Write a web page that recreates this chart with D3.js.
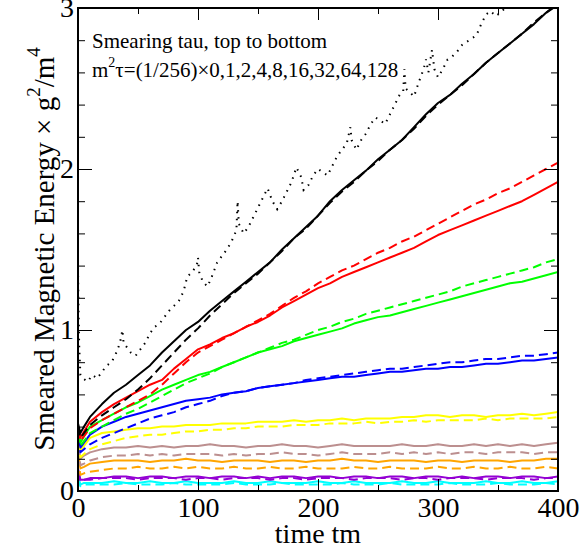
<!DOCTYPE html>
<html>
<head>
<meta charset="utf-8">
<script src="https://cdn.jsdelivr.net/npm/d3@7"></script>
<style>
  html, body { margin: 0; padding: 0; background: #fff; }
  svg { display: block; }
  svg text { font-family: "Liberation Serif", "Times New Roman", Times, "DejaVu Serif", serif !important; fill: #000; }
</style>
</head>
<body>
<svg id="chart" width="584" height="552"></svg>
<script>
// Sample times (tm) shared by the smeared curves
const T = [0, 2, 5,
  10, 20, 30, 40, 50, 60, 70, 80, 90, 100,
  110, 120, 130, 140, 150, 160, 170, 180, 190, 200,
  210, 220, 230, 240, 250, 260, 270, 280, 290, 300,
  310, 320, 330, 340, 350, 360, 370, 380, 390, 400];

const blackSolid = [0.42,0.36,0.40,
  0.46,0.54,0.61,0.66,0.72,0.78,0.86,0.93,1.00,1.05,
  1.12,1.18,1.24,1.30,1.36,1.42,1.50,1.57,1.64,1.71,
  1.80,1.87,1.93,1.99,2.06,2.12,2.18,2.26,2.34,2.41,
  2.46,2.53,2.59,2.66,2.72,2.78,2.84,2.90,2.97,3.02];
const blackDash = [0.40,0.33,0.36,
  0.41,0.47,0.52,0.57,0.63,0.70,0.78,0.86,0.94,1.01,
  1.09,1.16,1.23,1.29,1.35,1.42,1.49,1.57,1.63,1.71,
  1.79,1.86,1.92,1.99,2.05,2.12,2.18,2.25,2.33,2.40,
  2.46,2.52,2.59,2.66,2.72,2.78,2.84,2.91,2.97,3.03];
const redSolid = [0.40,0.33,0.37,
  0.43,0.49,0.54,0.58,0.62,0.66,0.69,0.76,0.82,0.88,
  0.91,0.95,0.98,1.02,1.05,1.09,1.14,1.18,1.22,1.26,
  1.29,1.33,1.36,1.39,1.42,1.45,1.48,1.51,1.55,1.59,
  1.62,1.65,1.68,1.71,1.74,1.77,1.80,1.84,1.88,1.92];
const redDash = [0.38,0.31,0.34,
  0.39,0.44,0.48,0.52,0.56,0.60,0.66,0.73,0.80,0.86,
  0.90,0.94,0.98,1.02,1.06,1.10,1.15,1.20,1.24,1.29,
  1.33,1.37,1.40,1.44,1.48,1.51,1.55,1.58,1.62,1.66,
  1.70,1.74,1.78,1.81,1.85,1.88,1.92,1.96,2.00,2.04];
const greenSolid = [0.38,0.30,0.34,
  0.40,0.44,0.48,0.52,0.55,0.59,0.63,0.66,0.69,0.72,
  0.74,0.77,0.80,0.83,0.86,0.88,0.90,0.93,0.95,0.97,
  0.99,1.01,1.04,1.06,1.08,1.09,1.11,1.13,1.15,1.17,
  1.19,1.21,1.23,1.25,1.27,1.29,1.30,1.32,1.34,1.36];
const greenDash = [0.36,0.28,0.31,
  0.36,0.40,0.44,0.48,0.51,0.55,0.59,0.63,0.67,0.70,
  0.73,0.77,0.80,0.83,0.86,0.89,0.92,0.94,0.97,1.00,
  1.02,1.05,1.07,1.10,1.12,1.14,1.16,1.18,1.20,1.22,
  1.24,1.27,1.29,1.31,1.33,1.35,1.37,1.39,1.42,1.44];
const blueSolid = [0.36,0.27,0.30,
  0.35,0.40,0.43,0.46,0.48,0.50,0.52,0.54,0.56,0.57,
  0.58,0.60,0.61,0.62,0.64,0.65,0.66,0.67,0.68,0.69,
  0.70,0.71,0.71,0.72,0.73,0.74,0.74,0.75,0.76,0.76,
  0.77,0.77,0.78,0.79,0.79,0.80,0.81,0.81,0.82,0.83];
const blueDash = [0.34,0.24,0.26,
  0.29,0.33,0.36,0.39,0.42,0.45,0.47,0.49,0.52,0.54,
  0.56,0.59,0.61,0.62,0.64,0.65,0.66,0.67,0.69,0.70,
  0.71,0.72,0.73,0.74,0.75,0.76,0.76,0.77,0.78,0.79,
  0.80,0.80,0.81,0.82,0.82,0.83,0.84,0.84,0.85,0.86];
const yellowSolid = [0.33,0.25,0.28,
  0.33,0.36,0.37,0.38,0.39,0.39,0.40,0.40,0.41,0.41,
  0.41,0.42,0.42,0.42,0.43,0.43,0.43,0.44,0.43,0.44,
  0.44,0.45,0.44,0.45,0.45,0.45,0.46,0.46,0.47,0.47,
  0.46,0.47,0.47,0.46,0.47,0.47,0.48,0.47,0.48,0.49];
const yellowDash = [0.31,0.21,0.23,
  0.26,0.29,0.31,0.33,0.34,0.35,0.35,0.36,0.37,0.37,
  0.38,0.38,0.39,0.39,0.40,0.40,0.40,0.41,0.41,0.41,
  0.42,0.42,0.42,0.43,0.42,0.43,0.43,0.44,0.43,0.44,
  0.44,0.44,0.44,0.45,0.44,0.45,0.45,0.45,0.45,0.46];
const brownSolid = [0.30,0.20,0.22,
  0.24,0.26,0.27,0.27,0.28,0.27,0.28,0.27,0.28,0.28,
  0.29,0.28,0.28,0.27,0.28,0.28,0.29,0.28,0.28,0.27,
  0.28,0.29,0.28,0.28,0.28,0.28,0.29,0.28,0.28,0.29,
  0.28,0.28,0.29,0.28,0.29,0.28,0.29,0.28,0.29,0.30];
const brownDash = [0.27,0.16,0.17,
  0.19,0.21,0.22,0.22,0.23,0.22,0.23,0.22,0.23,0.23,
  0.23,0.22,0.23,0.22,0.23,0.23,0.24,0.23,0.23,0.22,
  0.23,0.24,0.23,0.23,0.23,0.24,0.23,0.24,0.23,0.24,
  0.23,0.24,0.24,0.23,0.24,0.24,0.24,0.23,0.24,0.24];
const orangeSolid = [0.24,0.14,0.15,
  0.17,0.18,0.19,0.19,0.19,0.18,0.19,0.19,0.20,0.19,
  0.19,0.18,0.19,0.19,0.19,0.18,0.19,0.19,0.18,0.19,
  0.19,0.20,0.19,0.19,0.18,0.19,0.19,0.19,0.18,0.19,
  0.19,0.18,0.19,0.19,0.19,0.18,0.19,0.19,0.20,0.20];
const orangeDash = [0.21,0.10,0.11,
  0.12,0.13,0.14,0.14,0.15,0.14,0.14,0.15,0.14,0.15,
  0.14,0.14,0.15,0.14,0.14,0.15,0.14,0.14,0.15,0.14,
  0.14,0.14,0.15,0.14,0.14,0.15,0.14,0.14,0.14,0.15,
  0.14,0.14,0.15,0.14,0.14,0.15,0.14,0.14,0.15,0.14];
const violetSolid = [0.14,0.07,0.07,
  0.08,0.08,0.09,0.09,0.08,0.09,0.09,0.08,0.09,0.09,
  0.08,0.09,0.09,0.08,0.09,0.08,0.09,0.09,0.08,0.09,
  0.09,0.08,0.09,0.09,0.08,0.09,0.09,0.08,0.09,0.09,
  0.08,0.09,0.08,0.09,0.09,0.08,0.09,0.09,0.08,0.09];
const violetDash = [0.12,0.06,0.07,
  0.07,0.08,0.08,0.08,0.07,0.08,0.08,0.08,0.07,0.08,
  0.08,0.07,0.08,0.08,0.08,0.07,0.08,0.08,0.07,0.08,
  0.08,0.08,0.07,0.08,0.08,0.08,0.07,0.08,0.08,0.07,
  0.08,0.08,0.08,0.07,0.08,0.08,0.08,0.07,0.08,0.08];
const cyanSolid = [0.09,0.04,0.05,
  0.05,0.05,0.06,0.05,0.05,0.06,0.05,0.05,0.06,0.05,
  0.05,0.05,0.06,0.05,0.05,0.06,0.05,0.05,0.05,0.06,
  0.05,0.05,0.06,0.05,0.05,0.05,0.06,0.05,0.05,0.06,
  0.05,0.05,0.05,0.06,0.05,0.05,0.06,0.05,0.05,0.06];
const cyanDash = [0.08,0.03,0.04,
  0.04,0.04,0.04,0.05,0.04,0.04,0.04,0.05,0.04,0.04,
  0.04,0.04,0.05,0.04,0.04,0.04,0.05,0.04,0.04,0.04,
  0.04,0.05,0.04,0.04,0.04,0.05,0.04,0.04,0.04,0.04,
  0.05,0.04,0.04,0.04,0.05,0.04,0.04,0.04,0.05,0.04];

// Unsmeared energy (tau = 0), sampled more finely
const dotT = [0, 0.5, 1, 2, 4, 8, 12, 16, 20, 24, 28, 32, 35, 37, 38, 40, 44, 48, 52, 56,
  60, 64, 68, 72, 76, 80, 84, 88, 91, 95, 99, 100, 101, 104, 108, 112, 116, 120, 124, 128,
  132, 133, 134, 138, 142, 146, 150, 154, 158, 162, 166, 170, 174, 178, 182, 186, 188, 192, 196, 200,
  204, 208, 212, 216, 220, 224, 227, 228, 232, 236, 240, 244, 248, 252, 256, 260, 264, 268, 271, 272,
  273, 276, 280, 284, 288, 290, 292, 295, 297, 300, 304, 308, 312, 316, 320, 324, 328, 332, 336, 340,
  344, 348, 352, 356, 360, 364, 368, 372, 376, 380, 390, 400];
const dotE = [1.38, 1.10, 0.90, 0.72, 0.70, 0.68, 0.72, 0.70, 0.74, 0.78, 0.80, 0.86, 0.92, 1.00, 0.92, 0.90, 0.86, 0.84, 0.88, 0.92,
  0.98, 1.02, 1.04, 1.08, 1.12, 1.15, 1.18, 1.24, 1.33, 1.36, 1.40, 1.45, 1.36, 1.30, 1.27, 1.34, 1.42, 1.46, 1.50, 1.55,
  1.62, 1.80, 1.66, 1.60, 1.64, 1.70, 1.76, 1.82, 1.88, 1.80, 1.75, 1.80, 1.86, 1.92, 2.01, 1.95, 1.87, 1.90, 1.96, 2.00,
  1.98, 1.96, 2.02, 2.08, 2.12, 2.16, 2.26, 2.18, 2.12, 2.18, 2.22, 2.28, 2.32, 2.30, 2.28, 2.34, 2.40, 2.46, 2.48, 2.62,
  2.50, 2.48, 2.45, 2.54, 2.62, 2.68, 2.60, 2.74, 2.62, 2.57, 2.62, 2.68, 2.70, 2.73, 2.77, 2.79, 2.81, 2.83, 2.90, 2.96,
  2.98, 2.95, 2.97, 3.00, 3.05, 3.02, 3.08, 3.12, 3.05, 3.10, 3.18, 3.25];

const timeTicks = [0, 100, 200, 300, 400];
const timeMinor = [50, 150, 250, 350];
const energyTicks = [0, 1, 2, 3];
const energyMinor = [0.2, 0.4, 0.6, 0.8, 1.2, 1.4, 1.6, 1.8, 2.2, 2.4, 2.6, 2.8];

const series = [
  { values: cyanDash,    color: "#00ffff", dash: true },
  { values: cyanSolid,   color: "#00ffff", dash: false },
  { values: violetDash,  color: "#9400d3", dash: true },
  { values: violetSolid, color: "#9400d3", dash: false },
  { values: orangeDash,  color: "#ffa500", dash: true },
  { values: orangeSolid, color: "#ffa500", dash: false },
  { values: brownDash,   color: "#bc8f8f", dash: true },
  { values: brownSolid,  color: "#bc8f8f", dash: false },
  { values: yellowDash,  color: "#ffff00", dash: true },
  { values: yellowSolid, color: "#ffff00", dash: false },
  { values: blueDash,    color: "#0000ff", dash: true },
  { values: blueSolid,   color: "#0000ff", dash: false },
  { values: greenDash,   color: "#00ff00", dash: true },
  { values: greenSolid,  color: "#00ff00", dash: false },
  { values: redDash,     color: "#ff0000", dash: true },
  { values: redSolid,    color: "#ff0000", dash: false },
  { values: blackDash,   color: "#000000", dash: true },
  { values: blackSolid,  color: "#000000", dash: false }
];

const SERIF = "'Liberation Serif', 'Times New Roman', Times, 'DejaVu Serif', serif";
const svg = d3.select("#chart");
const plotLeft = 78, plotRight = 558, plotTop = 8, plotBottom = 491;

const x = d3.scaleLinear().domain([0, 400]).range([plotLeft, plotRight]);
const y = d3.scaleLinear().domain([0, 3]).range([plotBottom, plotTop]);

svg.append("defs").append("clipPath").attr("id", "plotClip")
  .append("rect").attr("x", plotLeft).attr("y", plotTop)
  .attr("width", plotRight - plotLeft).attr("height", plotBottom - plotTop);

const plot = svg.append("g").attr("clip-path", "url(#plotClip)");
const line = d3.line().x(d => x(d[0])).y(d => y(d[1]));

// tau = 0 curve (dotted)
plot.append("path")
  .datum(dotT.map((t, i) => [t, dotE[i]]))
  .attr("d", line)
  .attr("fill", "none")
  .attr("stroke", "#000")
  .attr("stroke-width", 2)
  .attr("stroke-dasharray", "1.5,5.5");

plot.selectAll("path.curve")
  .data(series)
  .join("path")
  .attr("class", "curve")
  .attr("d", s => line(T.map((t, i) => [t, s.values[i]])))
  .attr("fill", "none")
  .attr("stroke", s => s.color)
  .attr("stroke-width", 2)
  .attr("stroke-linejoin", "round")
  .attr("stroke-dasharray", s => s.dash ? "9,5" : null);

// Axes: ticks point inwards on all four sides
function styleAxis(g) {
  g.attr("font-family", SERIF);
  g.select(".domain").remove();
  g.selectAll(".tick line").attr("stroke", "#000").attr("stroke-width", 1);
}
const fontSize = 28;

svg.append("g").attr("transform", `translate(0,${plotBottom})`)
  .call(d3.axisBottom(x).tickValues(timeTicks).tickSizeInner(-12).tickSizeOuter(0).tickFormat(d3.format("d")))
  .call(styleAxis)
  .call(g => g.selectAll("text").attr("font-size", fontSize).attr("y", 26).attr("dy", null));
svg.append("g").attr("transform", `translate(0,${plotBottom})`)
  .call(d3.axisBottom(x).tickValues(timeMinor).tickSizeInner(-6).tickSizeOuter(0).tickFormat(""))
  .call(styleAxis);
svg.append("g").attr("transform", `translate(0,${plotTop})`)
  .call(d3.axisTop(x).tickValues(timeTicks).tickSizeInner(-12).tickSizeOuter(0).tickFormat(""))
  .call(styleAxis);
svg.append("g").attr("transform", `translate(0,${plotTop})`)
  .call(d3.axisTop(x).tickValues(timeMinor).tickSizeInner(-6).tickSizeOuter(0).tickFormat(""))
  .call(styleAxis);

svg.append("g").attr("transform", `translate(${plotLeft},0)`)
  .call(d3.axisLeft(y).tickValues(energyTicks).tickSizeInner(-14).tickSizeOuter(0).tickFormat(d3.format("d")))
  .call(styleAxis)
  .call(g => g.selectAll("text").attr("font-size", fontSize).attr("x", -4));
svg.append("g").attr("transform", `translate(${plotLeft},0)`)
  .call(d3.axisLeft(y).tickValues(energyMinor).tickSizeInner(-7).tickSizeOuter(0).tickFormat(""))
  .call(styleAxis);
svg.append("g").attr("transform", `translate(${plotRight},0)`)
  .call(d3.axisRight(y).tickValues(energyTicks).tickSizeInner(-14).tickSizeOuter(0).tickFormat(""))
  .call(styleAxis);
svg.append("g").attr("transform", `translate(${plotRight},0)`)
  .call(d3.axisRight(y).tickValues(energyMinor).tickSizeInner(-7).tickSizeOuter(0).tickFormat(""))
  .call(styleAxis);

// Frame
svg.append("rect")
  .attr("x", plotLeft).attr("y", plotTop)
  .attr("width", plotRight - plotLeft).attr("height", plotBottom - plotTop)
  .attr("fill", "none").attr("stroke", "#000").attr("stroke-width", 2);

// Axis titles
svg.append("text")
  .attr("font-family", SERIF)
  .attr("x", (plotLeft + plotRight) / 2).attr("y", 543)
  .attr("text-anchor", "middle").attr("font-size", 28)
  .text("time tm");

const yTitle = svg.append("text")
  .attr("font-family", SERIF)
  .attr("transform", "translate(54,249) rotate(-90)")
  .attr("text-anchor", "middle").attr("font-size", 29);
yTitle.append("tspan").text("Smeared Magnetic Energy \u00d7 g");
yTitle.append("tspan").attr("font-size", 19).attr("dy", -14).text("2");
yTitle.append("tspan").attr("dy", 14).text("/m");
yTitle.append("tspan").attr("font-size", 19).attr("dy", -14).text("4");

// Annotation
svg.append("text").attr("font-family", SERIF).attr("x", 92).attr("y", 48).attr("font-size", 21)
  .text("Smearing tau, top to bottom");
const note = svg.append("text").attr("font-family", SERIF).attr("x", 92).attr("y", 77).attr("font-size", 21);
note.append("tspan").text("m");
note.append("tspan").attr("font-size", 14).attr("dy", -10).text("2");
note.append("tspan").attr("dy", 10).text("\u03c4=(1/256)\u00d70,1,2,4,8,16,32,64,128");
</script>
</body>
</html>
